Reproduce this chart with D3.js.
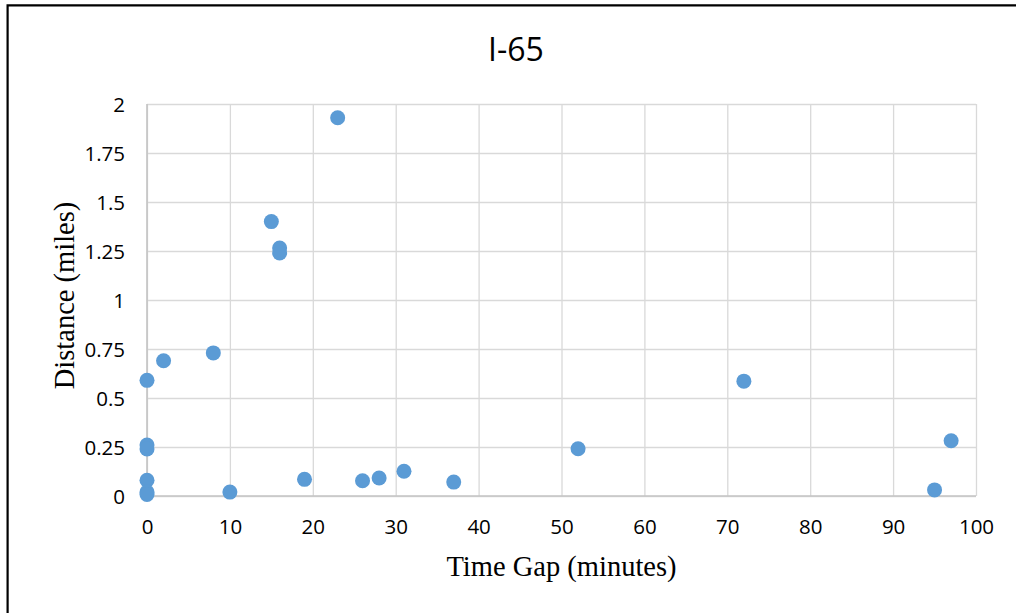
<!DOCTYPE html>
<html>
<head>
<meta charset="utf-8">
<script src="https://cdn.jsdelivr.net/npm/d3@7/dist/d3.min.js"></script>
<style>
  html, body { margin: 0; padding: 0; background: #ffffff; }
  svg { display: block; }
</style>
</head>
<body>
<script>
// ---- Data ----
const chartTitle = "I-65";
const xTitle = "Time Gap (minutes)";
const yTitle = "Distance (miles)";
const timeGap = [0, 0, 0, 0, 0, 0, 2, 8, 10, 15, 16, 16, 19, 23, 26, 28, 31, 37, 52, 72, 95, 97];
const distance = [0.59, 0.26, 0.24, 0.08, 0.02, 0.008, 0.69, 0.73, 0.02, 1.40, 1.265, 1.24, 0.085, 1.93, 0.078, 0.092, 0.126, 0.071, 0.241, 0.586, 0.031, 0.282];
const xTicks = [0, 10, 20, 30, 40, 50, 60, 70, 80, 90, 100];
const yTicks = [0, 0.25, 0.5, 0.75, 1, 1.25, 1.5, 1.75, 2];
const yTickLabels = ["0", "0.25", "0.5", "0.75", "1", "1.25", "1.5", "1.75", "2"];

const W = 1016, H = 613;
const plot = { left: 147, right: 976, top: 104, bottom: 496 };

const svg = d3.select("body").append("svg").attr("width", W).attr("height", H);
svg.append("rect").attr("width", W).attr("height", H).attr("fill", "#fff");

// Outer frame (left and top edges visible)
svg.append("path")
  .attr("d", `M7.6,${H} L7.6,5.4 L${W},5.4`)
  .attr("fill", "none").attr("stroke", "#000").attr("stroke-width", 2.2);

const x = d3.scaleLinear().domain([0, 100]).range([plot.left, plot.right]);
const y = d3.scaleLinear().domain([0, 2]).range([plot.bottom, plot.top]);

const tickFont = "'Open Sans', 'Noto Sans', sans-serif";

// X axis with vertical gridlines
const gx = svg.append("g")
  .attr("transform", `translate(0,${plot.bottom})`)
  .call(d3.axisBottom(x).tickValues(xTicks).tickSize(-(plot.bottom - plot.top)).tickFormat(d3.format("d")));
gx.select(".domain").remove();
gx.selectAll(".tick line").attr("stroke", "#d9d9d9").attr("stroke-width", 1.3);
gx.selectAll(".tick text")
  .attr("y", 38).attr("dy", null)
  .attr("font-family", tickFont).attr("font-size", 20.5).attr("fill", "#000");

// Y axis with horizontal gridlines
const gy = svg.append("g")
  .attr("transform", `translate(${plot.left},0)`)
  .call(d3.axisLeft(y).tickValues(yTicks).tickSize(-(plot.right - plot.left))
    .tickFormat((d, i) => yTickLabels[i]));
gy.select(".domain").remove();
gy.selectAll(".tick line").attr("stroke", "#d9d9d9").attr("stroke-width", 1.3);
gy.selectAll(".tick text")
  .attr("x", -22).attr("dy", "0.36em")
  .attr("font-family", tickFont).attr("font-size", 20.5).attr("fill", "#000");

// Axis lines (left and bottom)
svg.append("line")
  .attr("x1", x(0)).attr("x2", x(100)).attr("y1", y(0)).attr("y2", y(0))
  .attr("stroke", "#c4c4c4").attr("stroke-width", 1.6);
svg.append("line")
  .attr("x1", x(0)).attr("x2", x(0)).attr("y1", y(0)).attr("y2", y(2))
  .attr("stroke", "#c4c4c4").attr("stroke-width", 1.6);

// Points
const pts = timeGap.map((t, i) => ({ t, d: distance[i] }));
svg.append("g").selectAll("circle").data(pts).enter().append("circle")
  .attr("cx", p => x(p.t)).attr("cy", p => y(p.d)).attr("r", 7.5)
  .attr("fill", "#5b9bd5");

// Title
svg.append("text")
  .attr("x", 516).attr("y", 61).attr("text-anchor", "middle")
  .attr("font-family", tickFont).attr("font-size", 32).attr("fill", "#000")
  .text(chartTitle);

// Axis titles
svg.append("text")
  .attr("x", (plot.left + plot.right) / 2).attr("y", 576).attr("text-anchor", "middle")
  .attr("font-family", "'Liberation Serif', 'Times New Roman', serif").attr("font-size", 28.5)
  .attr("fill", "#000").text(xTitle);

svg.append("text")
  .attr("transform", `translate(74,295.5) rotate(-90)`).attr("text-anchor", "middle")
  .attr("font-family", "'Liberation Serif', 'Times New Roman', serif").attr("font-size", 28.5)
  .attr("fill", "#000").text(yTitle);
</script>
</body>
</html>
